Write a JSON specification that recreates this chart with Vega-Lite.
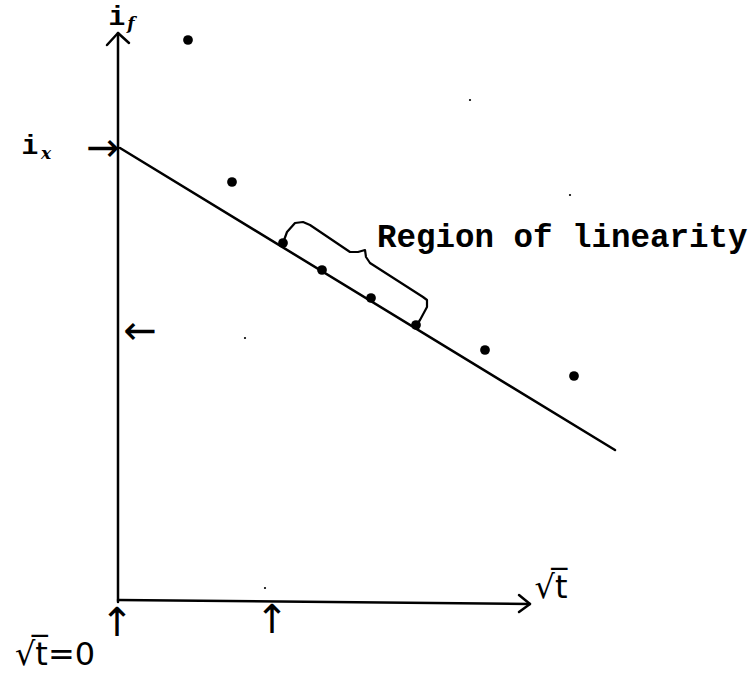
{
  "$schema": "https://vega.github.io/schema/vega-lite/v6.json",
  "width": 751,
  "height": 676,
  "autosize": {"type": "fit", "contains": "padding"},
  "padding": 0,
  "background": "white",
  "config": {"view": {"stroke": null}},
  "datasets": {
    "axes": [
      {"seg": "yaxis", "ord": 1, "x": 0, "y": 0},
      {"seg": "yaxis", "ord": 2, "x": 0, "y": 11.38},
      {"seg": "yarrow", "ord": 1, "x": -0.22, "y": 11.14},
      {"seg": "yarrow", "ord": 2, "x": 0, "y": 11.38},
      {"seg": "yarrow", "ord": 3, "x": 0.22, "y": 11.18},
      {"seg": "xaxis", "ord": 1, "x": 0, "y": 0.04},
      {"seg": "xaxis", "ord": 2, "x": 8.24, "y": -0.04},
      {"seg": "xarrow", "ord": 1, "x": 8.02, "y": 0.14},
      {"seg": "xarrow", "ord": 2, "x": 8.24, "y": -0.04},
      {"seg": "xarrow", "ord": 3, "x": 8.02, "y": -0.2}
    ],
    "fit": [
      {"x": 0.04, "y": 9.08},
      {"x": 9.94, "y": 3.04}
    ],
    "brace": [
      {"ord": 1, "x": 3.3, "y": 7.18},
      {"ord": 2, "x": 3.38, "y": 7.4},
      {"ord": 3, "x": 3.54, "y": 7.58},
      {"ord": 4, "x": 3.7, "y": 7.6},
      {"ord": 5, "x": 3.84, "y": 7.54},
      {"ord": 6, "x": 4.64, "y": 7.0},
      {"ord": 7, "x": 4.8, "y": 7.0},
      {"ord": 8, "x": 4.94, "y": 7.04},
      {"ord": 9, "x": 4.96, "y": 6.9},
      {"ord": 10, "x": 5.04, "y": 6.78},
      {"ord": 11, "x": 6.1, "y": 6.1},
      {"ord": 12, "x": 6.18, "y": 6.04},
      {"ord": 13, "x": 6.18, "y": 5.9},
      {"ord": 14, "x": 6.04, "y": 5.64},
      {"ord": 15, "x": 5.94, "y": 5.5}
    ],
    "points": [
      {"x": 1.4, "y": 11.24},
      {"x": 2.28, "y": 8.4},
      {"x": 3.3, "y": 7.18},
      {"x": 4.08, "y": 6.64},
      {"x": 5.06, "y": 6.08},
      {"x": 5.96, "y": 5.54},
      {"x": 7.34, "y": 5.04},
      {"x": 9.12, "y": 4.52}
    ],
    "specks": [
      {"x": 2.54, "y": 5.28},
      {"x": 7.04, "y": 10.04},
      {"x": 9.04, "y": 8.14},
      {"x": 2.94, "y": 0.28}
    ],
    "mainI": [
      {"t": "i", "x": -0.02, "y": 11.7},
      {"t": "i", "x": -1.76, "y": 9.12}
    ],
    "subs": [
      {"t": "f", "x": 0.26, "y": 11.56},
      {"t": "x", "x": -1.44, "y": 8.96}
    ],
    "arrows": [
      {"t": "→", "x": -0.3, "y": 9.06},
      {"t": "←", "x": 0.44, "y": 5.4},
      {"t": "↑", "x": -0.02, "y": -0.44},
      {"t": "↑", "x": 3.08, "y": -0.38}
    ],
    "roots": [
      {"t": "√t̅", "x": 8.66, "y": 0.28},
      {"t": "√t̅=0", "x": -1.26, "y": -1.06}
    ],
    "region": [
      {"t": "Region of linearity", "x": 5.18, "y": 7.1}
    ]
  },
  "encoding": {
    "x": {"field": "x", "type": "quantitative", "scale": {"domain": [-2.36, 12.66], "nice": false, "zero": false}, "axis": null},
    "y": {"field": "y", "type": "quantitative", "scale": {"domain": [-1.48, 12.04], "nice": false, "zero": false}, "axis": null}
  },
  "layer": [
    {
      "data": {"name": "axes"},
      "mark": {"type": "line", "color": "black", "strokeWidth": 2.5, "strokeCap": "round", "strokeJoin": "round"},
      "encoding": {"detail": {"field": "seg"}, "order": {"field": "ord", "type": "quantitative"}}
    },
    {
      "data": {"name": "fit"},
      "mark": {"type": "line", "color": "black", "strokeWidth": 2.5, "strokeCap": "round"},
      "encoding": {}
    },
    {
      "data": {"name": "brace"},
      "mark": {"type": "line", "color": "black", "strokeWidth": 2.2, "interpolate": "linear", "strokeCap": "round", "strokeJoin": "round"},
      "encoding": {"order": {"field": "ord", "type": "quantitative"}}
    },
    {
      "data": {"name": "points"},
      "mark": {"type": "circle", "color": "black", "opacity": 1, "size": 95}
    },
    {
      "data": {"name": "specks"},
      "mark": {"type": "circle", "color": "black", "opacity": 1, "size": 5}
    },
    {
      "data": {"name": "mainI"},
      "mark": {"type": "text", "font": "Liberation Mono", "fontWeight": "bold", "fontSize": 28, "color": "black", "baseline": "middle", "align": "center"},
      "encoding": {"text": {"field": "t"}}
    },
    {
      "data": {"name": "subs"},
      "mark": {"type": "text", "font": "DejaVu Serif", "fontStyle": "italic", "fontWeight": "bold", "fontSize": 17, "color": "black", "baseline": "middle", "align": "center"},
      "encoding": {"text": {"field": "t"}}
    },
    {
      "data": {"name": "arrows"},
      "mark": {"type": "text", "font": "DejaVu Sans", "fontSize": 40, "color": "black", "baseline": "middle", "align": "center"},
      "encoding": {"text": {"field": "t"}}
    },
    {
      "data": {"name": "roots"},
      "mark": {"type": "text", "font": "DejaVu Sans", "fontSize": 32, "color": "black", "baseline": "middle", "align": "center"},
      "encoding": {"text": {"field": "t"}}
    },
    {
      "data": {"name": "region"},
      "mark": {"type": "text", "font": "Liberation Mono", "fontWeight": "bold", "fontSize": 32.5, "color": "black", "baseline": "alphabetic", "align": "left"},
      "encoding": {"text": {"field": "t"}}
    }
  ]
}
